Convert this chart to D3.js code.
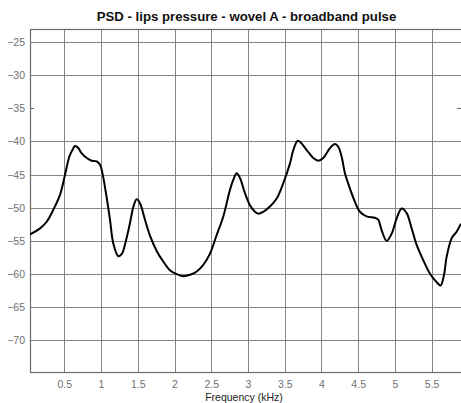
<!DOCTYPE html>
<html>
<head>
<meta charset="utf-8">
<script src="https://cdn.jsdelivr.net/npm/d3@7"></script>
<style>
  html, body { margin: 0; padding: 0; background: #fff; }
  svg { display: block; }
  text { font-family: "Liberation Sans", Arial, sans-serif; }
</style>
</head>
<body>
<svg id="chart" width="461" height="403"></svg>
<script>
// ---- data ----
const title = "PSD - lips pressure - wovel A - broadband pulse";
const xLabel = "Frequency (kHz)";
const xTicks = [0.5, 1, 1.5, 2, 2.5, 3, 3.5, 4, 4.5, 5, 5.5];
const yTicks = [-25, -30, -35, -40, -45, -50, -55, -60, -65, -70];
const yGridSkip = [-35];
const freq = [0.033, 0.169, 0.26, 0.35, 0.44, 0.51, 0.568, 0.614, 0.646, 0.69, 0.737, 0.805, 0.873, 0.941, 0.986,
  1.023, 1.067, 1.122, 1.167, 1.235, 1.281, 1.34, 1.394, 1.439, 1.485, 1.53, 1.598, 1.666, 1.757, 1.847, 1.938,
  2.03, 2.12, 2.211, 2.302, 2.392, 2.483, 2.574, 2.664, 2.755, 2.8, 2.846, 2.891, 2.959, 3.027, 3.095, 3.14,
  3.208, 3.299, 3.391, 3.48, 3.572, 3.617, 3.681, 3.799, 3.889, 3.957, 4.025, 4.116, 4.184, 4.229, 4.275,
  4.32, 4.388, 4.456, 4.524, 4.615, 4.728, 4.773, 4.82, 4.888, 4.956, 5.024, 5.092, 5.16, 5.228, 5.296,
  5.386, 5.476, 5.568, 5.622, 5.667, 5.704, 5.772, 5.84, 5.899];
const psd = [-54.0, -53.1, -52.1, -50.3, -48.1, -45.0, -42.3, -41.2, -40.7, -41.0, -41.8, -42.5, -42.9, -43.0, -43.5,
  -45.0, -47.8, -51.8, -55.4, -57.3, -57.0, -54.9, -52.3, -49.9, -48.7, -49.3, -51.8, -54.2, -56.5, -58.1, -59.4,
  -60.0, -60.3, -60.1, -59.6, -58.6, -56.9, -54.1, -51.3, -47.3, -45.8, -44.8, -45.5, -47.8, -49.6, -50.6, -50.9,
  -50.6, -49.8, -48.6, -46.3, -43.3, -41.3, -39.9, -41.3, -42.5, -42.9, -42.5, -41.0, -40.4, -40.8, -42.3,
  -44.8, -47.1, -49.1, -50.6, -51.3, -51.5, -51.8, -53.4, -55.0, -53.9, -51.6, -50.1, -50.8, -53.1, -55.6,
  -57.9, -59.9, -61.2, -61.7, -60.2, -57.4, -54.6, -53.6, -52.4];

// ---- layout ----
const svg = d3.select("#chart");
const L = 30, T = 29, R = 468, B = 372;
const x = d3.scaleLinear().domain([0.033, 5.995]).range([L, R]);
const y = d3.scaleLinear().domain([-74.75, -23.05]).range([B, T]);

const gridColor = "#858585";
const frameColor = "#6a6a6a";
const labelColor = "#707070";

// grid
const g = svg.append("g");
g.selectAll("line.vg").data(xTicks).enter().append("line")
  .attr("x1", d => Math.round(x(d)) + 0.5).attr("x2", d => Math.round(x(d)) + 0.5)
  .attr("y1", T).attr("y2", B)
  .attr("stroke", gridColor).attr("stroke-width", 1);
g.selectAll("line.hg").data(yTicks.filter(v => !yGridSkip.includes(v))).enter().append("line")
  .attr("x1", L).attr("x2", R)
  .attr("y1", d => Math.round(y(d)) + 0.5).attr("y2", d => Math.round(y(d)) + 0.5)
  .attr("stroke", gridColor).attr("stroke-width", 1);
// short ticks for skipped gridlines
yGridSkip.forEach(v => {
  const yy = Math.round(y(v)) + 0.5;
  g.append("line").attr("x1", L).attr("x2", L + 4).attr("y1", yy).attr("y2", yy).attr("stroke", frameColor);
  g.append("line").attr("x1", 457).attr("x2", 461).attr("y1", yy).attr("y2", yy).attr("stroke", frameColor);
});

// frame
svg.append("rect").attr("x", L + 0.5).attr("y", T + 0.5).attr("width", R - L).attr("height", B - T)
  .attr("fill", "none").attr("stroke", frameColor).attr("stroke-width", 1.2);

// axes labels via d3 axes
const xAxis = d3.axisBottom(x).tickValues(xTicks).tickSize(0).tickPadding(9).tickFormat(d3.format("~g"));
const xa = svg.append("g").attr("transform", `translate(0,${B})`).call(xAxis);
xa.select(".domain").remove();
xa.selectAll("text").attr("fill", labelColor).style("font-size", "10.5px")
  .style("font-family", "'Liberation Sans', Arial, sans-serif");

const yAxis = d3.axisLeft(y).tickValues(yTicks).tickSize(0).tickPadding(5).tickFormat(d3.format("~g"));
const ya = svg.append("g").attr("transform", `translate(${L},0)`).call(yAxis);
ya.select(".domain").remove();
ya.selectAll("text").attr("fill", labelColor).style("font-size", "10.5px")
  .style("font-family", "'Liberation Sans', Arial, sans-serif");

// curve
svg.append("defs").append("clipPath").attr("id", "clip")
  .append("rect").attr("x", L).attr("y", T).attr("width", R - L).attr("height", B - T);
const data = freq.map((f, i) => ({ f, v: psd[i] }));
svg.append("path").datum(data)
  .attr("clip-path", "url(#clip)")
  .attr("fill", "none").attr("stroke", "#000").attr("stroke-width", 2)
  .attr("stroke-linejoin", "round")
  .attr("d", d3.line().x(d => x(d.f)).y(d => y(d.v)).curve(d3.curveCatmullRom.alpha(0.5)));

// title
svg.append("text").attr("x", 246.5).attr("y", 20.5).attr("text-anchor", "middle")
  .style("font-size", "13.2px").style("font-weight", "bold").attr("fill", "#111").text(title);
// x label
svg.append("text").attr("x", 244).attr("y", 401).attr("text-anchor", "middle")
  .style("font-size", "10.5px").attr("fill", "#222").text(xLabel);
</script>
</body>
</html>
